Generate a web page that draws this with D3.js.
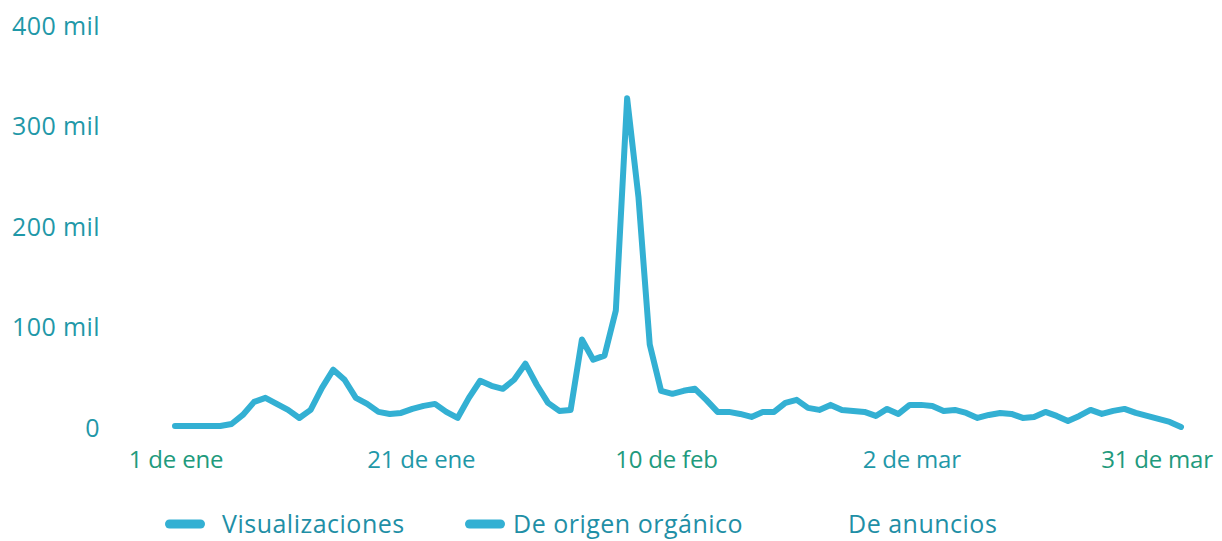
<!DOCTYPE html>
<html>
<head>
<meta charset="utf-8">
<script src="https://cdn.jsdelivr.net/npm/d3@7"></script>
<style>
  body { margin: 0; background: #fff; }
  svg { display: block; }
  text { font-family: 'Open Sans', sans-serif; font-weight: 500; }
</style>
</head>
<body>
<svg id="visArea" width="1222" height="541"></svg>
<script>
// daily views in thousands, 1 jan - 31 mar
const startDate = new Date(2023, 0, 1)
const views = [
  2, 2, 2, 2, 2, 4, 13, 26, 30, 24,
  18, 10, 18, 40, 58, 48, 30, 24, 16, 14,
  15, 19, 22, 24, 16, 10, 30, 47, 42, 39,
  48, 64, 43, 25, 17, 18, 88, 68, 72, 117,
  328, 230, 83, 37, 34, 37, 39, 28, 16, 16,
  14, 11, 16, 16, 25, 28, 20, 18, 23, 18,
  17, 16, 12, 19, 14, 23, 23, 22, 17, 18,
  15, 10, 13, 15, 14, 10, 11, 16, 12, 7,
  12, 18, 14, 17, 19, 15, 12, 9, 6, 1
]
const yTicks = [0, 100, 200, 300, 400]
const xLabels = ['1 de ene', '21 de ene', '10 de feb', '2 de mar', '31 de mar']
const legendItems = ['Visualizaciones', 'De origen orgánico', 'De anuncios']

const lineColor = '#33b0d3'
const textColor = '#1f98a8'

const data = views.map((v, i) => ({ date: d3.timeDay.offset(startDate, i), value: v }))

const svg = d3.select('#visArea')

const x = d3.scaleTime()
  .domain(d3.extent(data, d => d.date))
  .range([175, 1181])

const y = d3.scaleLinear()
  .domain([0, 400])
  .range([428, 26])

// labels are spread evenly, like the original dashboard
const xl = d3.scalePoint()
  .domain(xLabels)
  .range([176, 1157])

svg.append('g')
  .selectAll('text')
  .data(yTicks)
  .join('text')
  .attr('x', 100)
  .attr('y', d => y(d))
  .attr('dy', '0.35em')
  .attr('text-anchor', 'end')
  .attr('font-size', 25)
  .attr('letter-spacing', 0.4)
  .attr('fill', textColor)
  .text(d => d === 0 ? '0' : d + ' mil')

svg.append('g')
  .selectAll('text')
  .data(xLabels)
  .join('text')
  .attr('x', d => xl(d))
  .attr('y', 460)
  .attr('dy', '0.35em')
  .attr('text-anchor', 'middle')
  .attr('font-size', 24)
  .attr('letter-spacing', -0.2)
  .attr('fill', (d, i) => i % 2 === 0 ? '#219a7c' : textColor)
  .text(d => d)

const line = d3.line()
  .x(d => x(d.date))
  .y(d => y(d.value))

svg.append('path')
  .datum(data)
  .attr('fill', 'none')
  .attr('stroke', lineColor)
  .attr('stroke-width', 6)
  .attr('stroke-linejoin', 'round')
  .attr('stroke-linecap', 'round')
  .attr('d', line)

// legend
const legendX = [165, 465, 848]
const legend = svg.append('g')
  .selectAll('g')
  .data(legendItems)
  .join('g')
  .attr('transform', (d, i) => `translate(${legendX[i]},524)`)

legend.filter((d, i) => i < 2)
  .append('rect')
  .attr('x', 0)
  .attr('y', -4.5)
  .attr('width', 40)
  .attr('height', 9)
  .attr('rx', 4.5)
  .attr('fill', lineColor)

legend.append('text')
  .attr('x', (d, i) => i < 2 ? (i === 0 ? 57 : 48) : 0)
  .attr('dy', '0.35em')
  .attr('font-size', 25)
  .attr('letter-spacing', 0.5)
  .attr('fill', '#1f8fa6')
  .text(d => d)
</script>
</body>
</html>
